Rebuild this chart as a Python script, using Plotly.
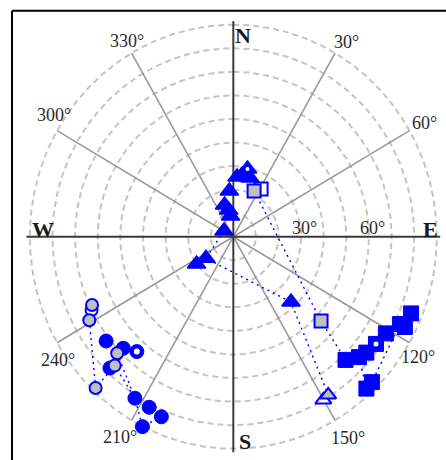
import numpy as np
import plotly.graph_objects as go

# Directions: azimuth in degrees clockwise from N, radial value 0 (centre) to 90 (rim)
tri_az = [3.7, 8.4, 16.5, 354.8, 343.9, 349.4, 352.0, 300.5, 232.8, 234.5, 137.4]
tri_r = [25.4, 26.5, 26.0, 19.5, 14.0, 11.5, 8.9, 4.8, 15.2, 20.0, 37.7]
tri_gray_az = [148.0]
tri_gray_r = [79.2]
tri_open_az = [150.1]
tri_open_r = [79.9]
tri_dot_az = [12.3]
tri_dot_r = [29.4]

sq_az = [112.5, 116.7, 116.8, 121.3, 129.9, 132.6, 136.5, 135.2, 137.6]
sq_r = [85.1, 82.5, 85.0, 79.0, 76.7, 75.5, 72.1, 87.0, 87.3]
sq_gray_az = [25.3, 132.7]
sq_gray_r = [21.5, 52.8]
sq_open_az = [31.2]
sq_open_r = [23.7]
sq_dot_az = [125.8]
sq_dot_r = [77.8]

circ_az = [231.8, 225.8, 224.4, 212.4, 207.2, 202.6, 206.5]
circ_r = [71.6, 67.9, 78.0, 81.2, 81.4, 82.8, 90.1]
circ_gray_az = [245.1, 240.9, 226.1, 223.8, 223.5]
circ_gray_r = [68.9, 72.9, 71.3, 75.8, 88.5]
circ_open_az = [243.6]
circ_open_r = [70.0]
circ_dot_az = [221.2]
circ_dot_r = [64.8]

# Dotted connections between directions (series name, index)
paths = [
    [("tri", 7), ("tri", 8), ("tri", 10), ("tri_gray", 0)],
    [("sq_gray", 0), ("sq_gray", 1), ("sq", 6)],
    [("sq", 1), ("sq", 7)],
    [("sq", 5), ("sq", 8)],
    [("circ_gray", 1), ("circ_gray", 4), ("circ_gray", 3), ("circ", 3), ("circ", 6), ("circ", 5)],
    [("circ_gray", 2), ("circ", 3)],
]

ring_values = [10, 20, 30, 40, 50, 60, 70, 80, 90]
spoke_angles = [30, 60, 120, 150, 210, 240, 300, 330]
spoke_labels = ["30°", "60°", "120°", "150°", "210°", "240°", "300°", "330°"]
spoke_label_pos = [(31.2, 96.8), (60.4, 97.5), (121.9, 96.4), (149.3, 99.6),
                   (210.5, 98.6), (235.9, 93.4), (303.1, 94.7), (330.4, 95.3)]
radial_labels = ["30°", "60°"]
radial_label_values = [30, 60]

series = {
    "tri": (tri_az, tri_r), "tri_gray": (tri_gray_az, tri_gray_r),
    "sq": (sq_az, sq_r), "sq_gray": (sq_gray_az, sq_gray_r),
    "circ": (circ_az, circ_r), "circ_gray": (circ_gray_az, circ_gray_r),
}


def to_xy(az, r):
    a = np.radians(np.asarray(az, dtype=float))
    r = np.asarray(r, dtype=float)
    return r * np.sin(a), r * np.cos(a)


BLUE = "#0000ff"
GRAY_FILL = "#c0c0c0"

fig = go.Figure()

# dashed rings
t = np.linspace(0, 2 * np.pi, 721)
for rv in ring_values:
    fig.add_trace(go.Scatter(x=rv * np.sin(t), y=rv * np.cos(t), mode="lines",
                             line=dict(color="#c4c4c4", width=2, dash="6px,4px"),
                             hoverinfo="skip", showlegend=False))

# spokes every 30 degrees
for ang in spoke_angles:
    x, y = to_xy([ang, ang], [0, 90])
    fig.add_trace(go.Scatter(x=x, y=y, mode="lines",
                             line=dict(color="#9a9a9a", width=1.6),
                             hoverinfo="skip", showlegend=False))

# N-S and E-W axes
for ang in [0, 90, 180, 270]:
    x, y = to_xy([ang, ang], [0, 91.5])
    fig.add_trace(go.Scatter(x=x, y=y, mode="lines",
                             line=dict(color="#3a3a3a", width=2),
                             hoverinfo="skip", showlegend=False))

# dotted connectors
for p in paths:
    az = [series[s][0][i] for s, i in p]
    r = [series[s][1][i] for s, i in p]
    x, y = to_xy(az, r)
    fig.add_trace(go.Scatter(x=x, y=y, mode="lines",
                             line=dict(color=BLUE, width=1.4, dash="2px,4px"),
                             hoverinfo="skip", showlegend=False))


def add_markers(az, r, symbol, size, fill, lw):
    x, y = to_xy(az, r)
    fig.add_trace(go.Scatter(x=x, y=y, mode="markers",
                             marker=dict(symbol=symbol, size=size, color=fill,
                                         line=dict(color=BLUE, width=lw)),
                             hoverinfo="skip", showlegend=False))


# filled directions
add_markers(tri_az, tri_r, "triangle-up", 16, BLUE, 1.5)
add_markers(sq_az, sq_r, "square", 15, BLUE, 1)
add_markers(circ_az, circ_r, "circle", 14, BLUE, 1)

# open directions
add_markers(tri_open_az, tri_open_r, "triangle-up", 14, "white", 2)
add_markers(sq_open_az, sq_open_r, "square", 13, "white", 2)
add_markers(circ_open_az, circ_open_r, "circle", 12, "white", 2)

# gray directions
add_markers(tri_gray_az, tri_gray_r, "triangle-up", 14, GRAY_FILL, 2)
add_markers(sq_gray_az, sq_gray_r, "square", 13, GRAY_FILL, 2)
add_markers(circ_gray_az, circ_gray_r, "circle", 12, GRAY_FILL, 2)

# mean directions: blue symbol with white centre
add_markers(tri_dot_az, tri_dot_r, "triangle-up", 16, BLUE, 1.5)
add_markers(sq_dot_az, sq_dot_r, "square", 15, BLUE, 1)
add_markers(circ_dot_az, circ_dot_r, "circle", 14, BLUE, 1)
for az, r, s in [(tri_dot_az, tri_dot_r, 4), (sq_dot_az, sq_dot_r, 5), (circ_dot_az, circ_dot_r, 6)]:
    x, y = to_xy(az, r)
    fig.add_trace(go.Scatter(x=x, y=y, mode="markers",
                             marker=dict(symbol="circle", size=s, color="white"),
                             hoverinfo="skip", showlegend=False))

annotations = []
serif = "Liberation Serif"
for (ang, rad), txt in zip(spoke_label_pos, spoke_labels):
    x, y = to_xy([ang], [rad])
    annotations.append(dict(x=float(x[0]), y=float(y[0]), text=txt, showarrow=False,
                            font=dict(family=serif, size=18, color="#2a2a2a"),
                            xanchor="center", yanchor="middle"))
for rv, txt in zip(radial_label_values, radial_labels):
    annotations.append(dict(x=rv + 1.7, y=3.8, text=txt, showarrow=False,
                            font=dict(family=serif, size=18, color="#2a2a2a"),
                            xanchor="center", yanchor="middle"))
for txt, x, y in [("N", 4.4, 85.6), ("S", 5.2, -87.0), ("E", 87.0, 3.1), ("W", -84.0, 3.1)]:
    annotations.append(dict(x=x, y=y, text="<b>" + txt + "</b>", showarrow=False,
                            font=dict(family=serif, size=22, color="#1a1a1a"),
                            xanchor="center", yanchor="middle"))

fig.update_layout(
    width=446, height=460,
    margin=dict(l=0, r=0, t=0, b=0),
    paper_bgcolor="white", plot_bgcolor="white",
    xaxis=dict(range=[-103.2, 94.07], visible=False, fixedrange=True),
    yaxis=dict(range=[-94.78, 100.47], visible=False, fixedrange=True),
    annotations=annotations,
    shapes=[
        dict(type="line", xref="paper", yref="paper", x0=12 / 446, x1=1.02,
             y0=1 - 10.7 / 460, y1=1 - 10.7 / 460, line=dict(color="black", width=2)),
        dict(type="line", xref="paper", yref="paper", x0=12 / 446, x1=12 / 446,
             y0=-0.02, y1=1 - 10.7 / 460, line=dict(color="black", width=2)),
    ],
)

fig.write_html("out.html")
